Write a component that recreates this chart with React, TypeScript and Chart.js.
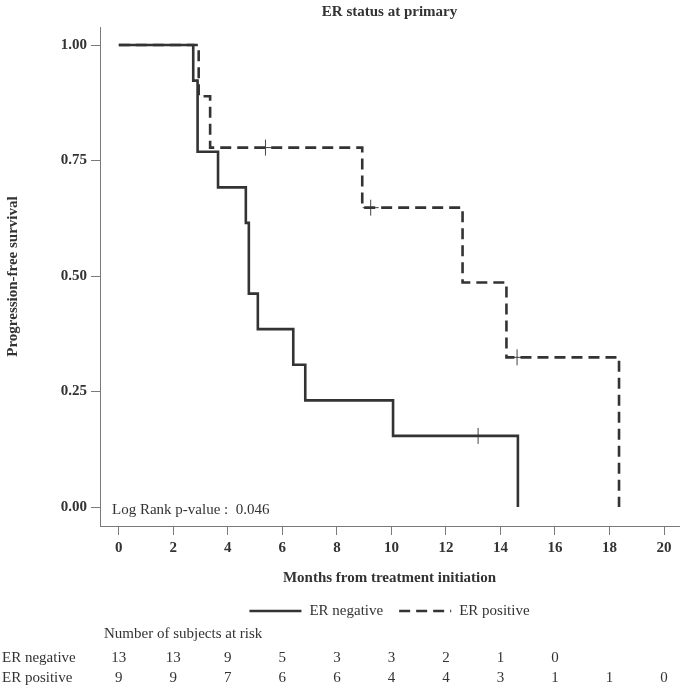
import React, { useEffect, useRef } from "react";
import { Chart, registerables } from "chart.js";

Chart.register(...registerables);

// ---- Data ----
const erNegTimes = [0, 2.73, 2.89, 3.64, 4.66, 4.77, 5.1, 6.4, 6.84, 10.06, 14.64];
const erNegSurv = [1, 0.923, 0.769, 0.692, 0.615, 0.462, 0.385, 0.308, 0.231, 0.154, 0];
const erNegCensorTimes = [13.18];
const erNegCensorSurv = [0.154];

const erPosTimes = [0, 2.93, 3.35, 8.93, 12.61, 14.22, 18.35];
const erPosSurv = [1, 0.889, 0.778, 0.648, 0.486, 0.324, 0];
const erPosCensorTimes = [5.38, 9.24, 14.61];
const erPosCensorSurv = [0.778, 0.648, 0.324];

const xTickValues = [0, 2, 4, 6, 8, 10, 12, 14, 16, 18, 20];
const yTickValues = [0, 0.25, 0.5, 0.75, 1];

const riskTimes = [0, 2, 4, 6, 8, 10, 12, 14, 16, 18, 20];
const riskErNeg = [13, 13, 9, 5, 3, 3, 2, 1, 0];
const riskErPos = [9, 9, 7, 6, 6, 4, 4, 3, 1, 1, 0];

const seriesNames = ["ER negative", "ER positive"];
const chartTitle = "ER status at primary";
const xTitle = "Months from treatment initiation";
const yTitle = "Progression-free survival";
const riskHeader = "Number of subjects at risk";
const logRankText = "Log Rank p-value :  0.046";

const SERIF = "'Liberation Serif', 'Times New Roman', Times, serif";
const INK = "#333333";
const AXIS = "#7a7a7a";
const DASH = [11, 6];

const textPlugin = {
  id: "kmText",
  afterDraw(chart: any) {
    const ctx = chart.ctx as CanvasRenderingContext2D;
    const ca = chart.chartArea;
    const xs = chart.scales.x;
    const cx = (ca.left + ca.right) / 2;
    ctx.save();
    ctx.fillStyle = INK;
    ctx.textBaseline = "middle";

    // title
    ctx.font = `bold 15px ${SERIF}`;
    ctx.textAlign = "center";
    ctx.fillText(chartTitle, cx, 12);

    // x title
    ctx.fillText(xTitle, cx, 578);

    // y title
    ctx.save();
    ctx.translate(13, (ca.top + ca.bottom) / 2);
    ctx.rotate(-Math.PI / 2);
    ctx.fillText(yTitle, 0, 0);
    ctx.restore();

    // log rank
    ctx.font = `15px ${SERIF}`;
    ctx.textAlign = "left";
    ctx.fillText(logRankText, 112, 510);

    // legend
    const sampleW = 52;
    const gap1 = 8;
    const gap2 = 16;
    const w1 = ctx.measureText(seriesNames[0]).width;
    const w2 = ctx.measureText(seriesNames[1]).width;
    const total = sampleW + gap1 + w1 + gap2 + sampleW + gap1 + w2;
    let lx = cx - total / 2;
    const ly = 611;
    ctx.strokeStyle = INK;
    ctx.lineWidth = 2.5;
    ctx.setLineDash([]);
    ctx.beginPath();
    ctx.moveTo(lx, ly);
    ctx.lineTo(lx + sampleW, ly);
    ctx.stroke();
    lx += sampleW + gap1;
    ctx.fillText(seriesNames[0], lx, ly);
    lx += w1 + gap2;
    ctx.setLineDash(DASH);
    ctx.beginPath();
    ctx.moveTo(lx, ly);
    ctx.lineTo(lx + sampleW, ly);
    ctx.stroke();
    ctx.setLineDash([]);
    lx += sampleW + gap1;
    ctx.fillText(seriesNames[1], lx, ly);

    // risk table
    ctx.textAlign = "left";
    ctx.fillText(riskHeader, 104, 634);
    ctx.fillText(seriesNames[0], 2, 658);
    ctx.fillText(seriesNames[1], 2, 678);
    ctx.textAlign = "center";
    riskErNeg.forEach((n, i) => {
      ctx.fillText(String(n), xs.getPixelForValue(riskTimes[i]), 658);
    });
    riskErPos.forEach((n, i) => {
      ctx.fillText(String(n), xs.getPixelForValue(riskTimes[i]), 678);
    });
    ctx.restore();
  },
};

function toPoints(xs: number[], ys: number[]) {
  return xs.map((x, i) => ({ x, y: ys[i] }));
}

export default function App() {
  const canvasRef = useRef<HTMLCanvasElement | null>(null);

  useEffect(() => {
    document.body.style.margin = "0";
    const canvas = canvasRef.current;
    if (!canvas) return;
    const lineCommon = {
      borderColor: INK,
      borderWidth: 2.6,
      pointRadius: 0,
      pointHoverRadius: 0,
      stepped: "before" as const,
      fill: false,
      tension: 0,
      borderCapStyle: "butt" as const,
      borderJoinStyle: "miter" as const,
    };
    const censorCommon = {
      type: "scatter" as const,
      showLine: false,
      pointStyle: "cross" as const,
      pointRadius: 8,
      pointBorderWidth: 1,
      pointBorderColor: "#444",
      pointBackgroundColor: "#444",
    };
    const chart = new Chart(canvas, {
      type: "line",
      data: {
        datasets: [
          { ...lineCommon, label: seriesNames[0], data: toPoints(erNegTimes, erNegSurv) },
          { ...lineCommon, label: seriesNames[1], borderDash: DASH, data: toPoints(erPosTimes, erPosSurv) },
          { ...censorCommon, label: seriesNames[0] + " censored", data: toPoints(erNegCensorTimes, erNegCensorSurv) },
          { ...censorCommon, label: seriesNames[1] + " censored", data: toPoints(erPosCensorTimes, erPosCensorSurv) },
        ] as any,
      },
      options: {
        animation: false,
        responsive: false,
        devicePixelRatio: 1,
        layout: { padding: { left: 0, right: 5, top: 27, bottom: 123 } },
        plugins: {
          legend: { display: false },
          title: { display: false },
          tooltip: { enabled: false },
        },
        scales: {
          x: {
            type: "linear",
            min: -0.69,
            max: 20.55,
            afterBuildTicks: (s: any) => {
              s.ticks = xTickValues.map((v) => ({ value: v }));
            },
            afterFit: (s: any) => {
              s.height = 40;
            },
            ticks: {
              callback: (v: any) => String(v),
              font: { family: SERIF, size: 15, weight: "bold" },
              color: INK,
              padding: 4,
              maxRotation: 0,
              autoSkip: false,
            },
            grid: { display: true, drawOnChartArea: false, drawTicks: true, tickLength: 9, color: AXIS, lineWidth: 1 },
            border: { display: true, color: AXIS, width: 1 },
          },
          y: {
            type: "linear",
            min: -0.041,
            max: 1.039,
            afterBuildTicks: (s: any) => {
              s.ticks = yTickValues.map((v) => ({ value: v }));
            },
            afterFit: (s: any) => {
              s.width = 100;
            },
            ticks: {
              callback: (v: any) => Number(v).toFixed(2),
              font: { family: SERIF, size: 15, weight: "bold" },
              color: INK,
              padding: 4,
              autoSkip: false,
            },
            grid: { display: true, drawOnChartArea: false, drawTicks: true, tickLength: 9, color: AXIS, lineWidth: 1 },
            border: { display: true, color: AXIS, width: 1 },
          },
        },
      } as any,
      plugins: [textPlugin],
    });
    return () => chart.destroy();
  }, []);

  return (
    <div style={{ position: "absolute", left: 0, top: 0, width: 688, height: 689, background: "#fff" }}>
      <canvas ref={canvasRef} width={688} height={689} style={{ display: "block", width: 688, height: 689 }} />
    </div>
  );
}
